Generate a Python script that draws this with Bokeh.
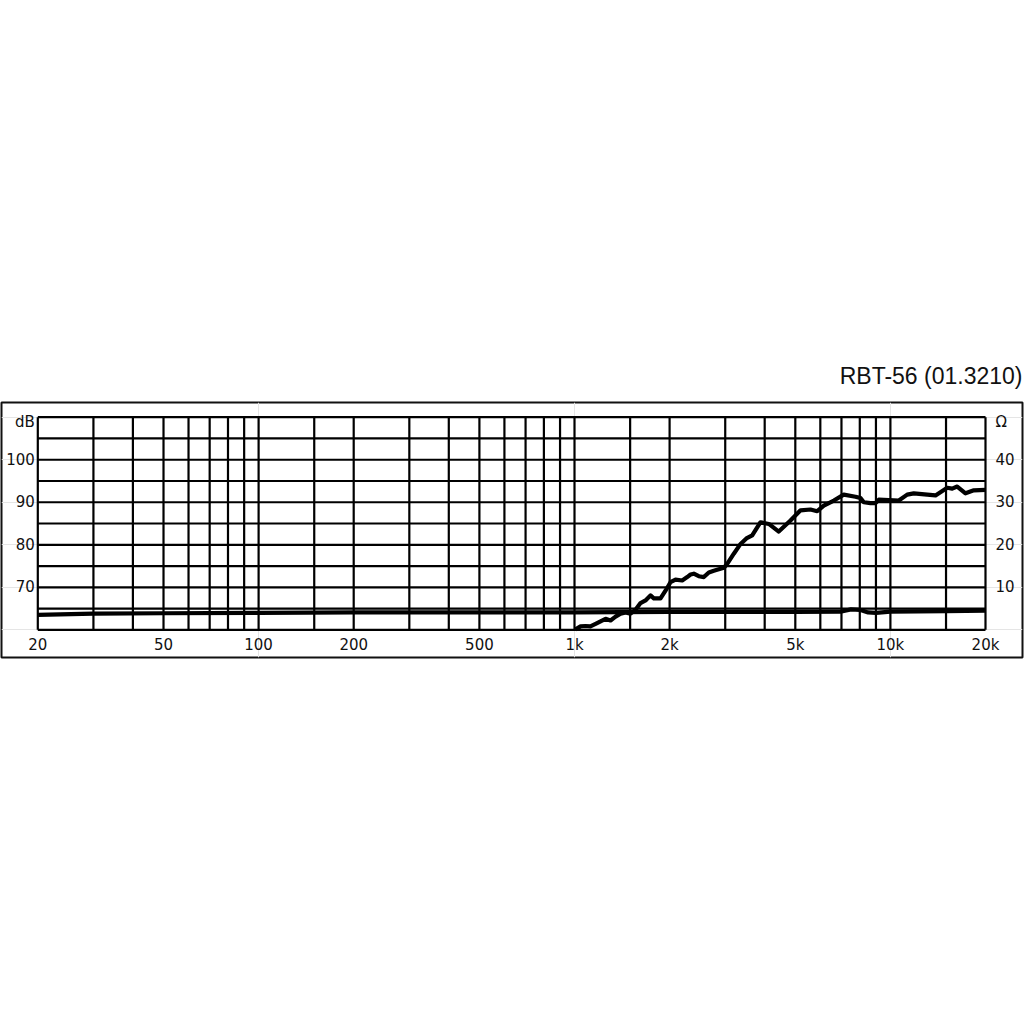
from bokeh.plotting import figure
from bokeh.models import Range1d, LogAxis, LinearAxis, FixedTicker
from bokeh.embed import file_html
from bokeh.resources import INLINE

# ---------------- data ----------------
title_text = "RBT-56 (01.3210)"

grid_freqs = [20, 30, 40, 50, 60, 70, 80, 90, 100, 150, 200, 300, 400, 500, 600, 700,
              800, 900, 1000, 1500, 2000, 3000, 4000, 5000, 6000, 7000, 8000, 9000,
              10000, 15000, 20000]
grid_db = [60, 65, 70, 75, 80, 85, 90, 95, 100, 105, 110]

x_ticks = [20, 50, 100, 200, 500, 1000, 2000, 5000, 10000, 20000]
x_tick_labels = ["20", "50", "100", "200", "500", "1k", "2k", "5k", "10k", "20k"]

db_ticks = [70, 80, 90, 100]
db_unit_pos = 108.8
ohm_ticks = [10, 20, 30, 40]
ohm_unit_pos = 48.8

# frequency response (Hz, dB)
resp_freq = [1007, 1045, 1083, 1123, 1166, 1209, 1254, 1300, 1349, 1399, 1451, 1504,
             1560, 1618, 1678, 1740, 1783, 1872, 1941, 2013, 2088, 2192, 2274, 2330,
             2386, 2474, 2567, 2662, 2760, 2970, 3044, 3194, 3355, 3500, 3652, 3880,
             4122, 4432, 4828, 5194, 5585, 5866, 6155, 6622, 7118, 7754, 8042, 8238,
             8650, 8970, 9188, 10632, 11302, 11858, 13078, 13892, 15132, 15692, 16274,
             17290, 18368, 20000]
resp_db = [60.1, 60.8, 60.9, 60.8, 61.4, 62.0, 62.6, 62.2, 63.1, 63.8, 64.1, 63.8,
           64.7, 66.3, 66.9, 68.1, 67.4, 67.4, 69.2, 71.2, 71.8, 71.6, 72.4, 73.0,
           73.2, 72.6, 72.4, 73.5, 73.9, 74.6, 75.5, 77.9, 80.2, 81.5, 82.2, 85.3,
           84.9, 83.1, 85.7, 88.1, 88.3, 87.9, 89.2, 90.4, 91.8, 91.3, 91.0, 90.0,
           89.8, 89.8, 90.6, 90.4, 91.8, 92.1, 91.8, 91.6, 93.4, 93.2, 93.7,
           92.1, 92.8, 92.9]

# impedance (Hz, ohm)
imp_freq = [20, 30, 50, 100, 200, 500, 1000, 2000, 5000, 7000, 7500, 8000, 8500,
            9000, 10000, 15000, 20000]
imp_ohm = [3.5, 3.8, 3.9, 4.0, 4.1, 4.1, 4.1, 4.2, 4.2, 4.3, 4.8, 4.7, 4.1,
           4.0, 4.3, 4.4, 4.5]

# ---------------- figure ----------------
p = figure(width=1024, height=667, x_axis_type="log",
           x_axis_location=None, y_axis_location=None,
           x_range=Range1d(15.35, 26192), y_range=Range1d(53.49, 113.46),
           output_backend="svg", toolbar_location=None,
           min_border_left=1, min_border_right=2, min_border_top=402,
           min_border_bottom=10)
p.extra_y_ranges = {"ohm": Range1d(-6.51, 53.46)}
p.outline_line_color = "#111111"
p.outline_line_width = 2
p.background_fill_color = "white"
p.border_fill_color = "white"

p.title.text = title_text
p.title.align = "right"
p.title.text_font = "Liberation Sans"
p.title.text_font_size = "23px"
p.title.text_font_style = "normal"
p.title.text_color = "#111111"
p.title.standoff = 28

# grid
n = len(grid_freqs)
p.segment(x0=grid_freqs, y0=[grid_db[0]] * n, x1=grid_freqs, y1=[grid_db[-1]] * n,
          line_color="black", line_width=2.2)
m = len(grid_db)
p.segment(x0=[grid_freqs[0]] * m, y0=grid_db, x1=[grid_freqs[-1]] * m, y1=grid_db,
          line_color="black", line_width=2.2)

# curves
p.line(imp_freq, imp_ohm, y_range_name="ohm", line_color="black", line_width=4.2,
       line_join="round")
p.line(resp_freq, resp_db, line_color="black", line_width=4.2, line_join="round")


def style_axis(ax, size, standoff):
    ax.axis_line_color = None
    ax.major_tick_line_color = None
    ax.minor_tick_line_color = None
    ax.major_tick_out = 0
    ax.major_tick_in = 0
    ax.minor_tick_out = 0
    ax.minor_tick_in = 0
    ax.major_label_text_font = "DejaVu Sans"
    ax.major_label_text_font_size = size
    ax.major_label_text_color = "#111111"
    ax.major_label_standoff = standoff


xaxis = LogAxis(fixed_location=grid_db[0], ticker=FixedTicker(ticks=x_ticks),
                major_label_overrides=dict(zip(x_ticks, x_tick_labels)))
style_axis(xaxis, "15px", 6)
p.add_layout(xaxis, "below")

left_ticks = db_ticks + [db_unit_pos]
left_labels = {t: str(t) for t in db_ticks}
left_labels[db_unit_pos] = "dB"
yaxis = LinearAxis(fixed_location=grid_freqs[0], ticker=FixedTicker(ticks=left_ticks),
                   major_label_overrides=left_labels)
style_axis(yaxis, "15px", 3)
p.add_layout(yaxis, "left")

right_ticks = ohm_ticks + [ohm_unit_pos]
right_labels = {t: str(t) for t in ohm_ticks}
right_labels[ohm_unit_pos] = "Ω"
raxis = LinearAxis(y_range_name="ohm", fixed_location=grid_freqs[-1],
                   ticker=FixedTicker(ticks=right_ticks),
                   major_label_overrides=right_labels)
style_axis(raxis, "15px", 10)
p.add_layout(raxis, "right")

open("out.html", "w").write(file_html(p, INLINE))
